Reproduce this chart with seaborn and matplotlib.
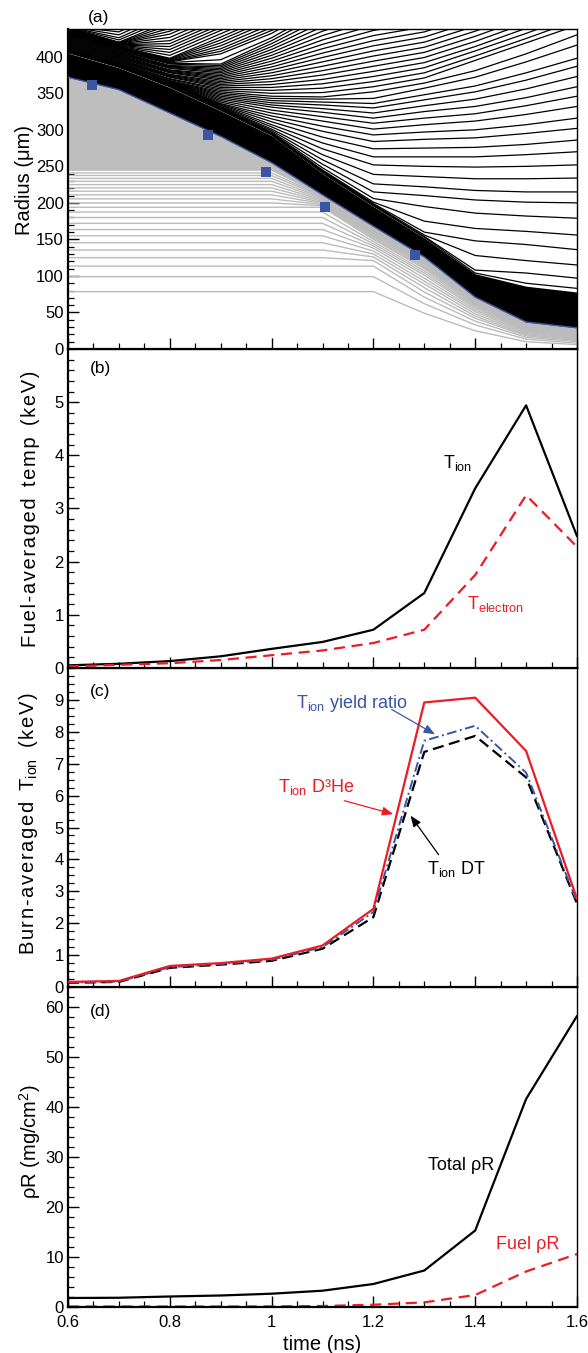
import matplotlib
matplotlib.use("Agg")
import matplotlib.pyplot as plt
from matplotlib.ticker import MultipleLocator, FixedLocator, FormatStrFormatter
import pandas as pd
import seaborn as sns

time_ns = [0.6, 0.7, 0.8, 0.9, 1.0, 1.1, 1.2, 1.3, 1.4, 1.5, 1.6]

# ---------------- panel (a): zone-boundary radii (um) ----------------
interface_r = [372, 355, 323, 291, 255, 211, 168, 126, 71, 37, 29]
shell_band_top_r = [405, 385, 358, 326, 292, 240, 195, 152, 103, 86, 78]
fuel_dense_floor_r = [245, 245, 245, 245, 245, 210, 164.5, 124.5, 70, 35.5, 27.5]

shell_lines_r = [
    [406.0, 386.0, 359.0, 327, 293, 241, 196, 153, 104, 90, 83],
    [406.2, 386.2, 359.4, 327.5, 293.5, 242, 197, 154, 108, 104, 97],
    [406.4, 386.4, 359.8, 328, 294, 243, 198, 156, 128, 121, 115],
    [406.6, 386.6, 360.2, 328.5, 294.5, 244, 199, 160, 148, 143, 136],
    [406.8, 386.8, 360.6, 329, 295, 245, 201, 175, 165, 161, 156],
    [407.0, 387.0, 361.0, 329.5, 296, 248, 206, 195, 186, 182, 179],
    [407.2, 387.2, 361.4, 330, 297, 253, 215, 210, 204, 201, 200],
    [407.4, 387.4, 361.8, 330.5, 299, 259, 226, 222, 217, 215, 215],
    [407.6, 387.6, 362.2, 331, 301, 266, 239, 236, 233, 233, 234],
    [407.8, 387.8, 362.6, 332, 304, 274, 252, 250, 249, 250, 252],
    [408.0, 388.0, 363.0, 333, 307, 282, 263, 263, 263, 266, 270],
    [408.2, 388.2, 363.4, 334, 311, 290, 274, 275, 276, 280, 286],
    [408.4, 388.4, 363.8, 335, 315, 298, 284, 287, 289, 295, 302],
    [408.6, 388.6, 364.2, 336, 319, 305, 293, 297, 300, 307, 316],
    [408.8, 388.8, 364.6, 338, 323, 312, 301, 307, 312, 321, 332],
    [409.0, 389.0, 365.0, 340, 327, 318, 309, 316, 322, 333, 346],
    [409.2, 389.2, 365.4, 342, 331, 324, 316, 325, 332, 344, 359],
    [409.4, 389.4, 365.8, 344, 334, 329, 323, 333, 342, 356, 373],
    [409.6, 389.6, 366.2, 346, 337, 334, 330, 341, 352, 368, 387],
    [409.8, 389.8, 366.6, 348, 340, 338, 336, 348, 360, 378, 398],
    [410.0, 390.0, 367.0, 350, 343, 342, 343, 357, 372, 393, 416],
    [410.2, 390.2, 367.4, 352, 346, 345, 352, 364, 381, 404, 430],
]

corona_lines_r = [
    [411, 391, 369, 354, 350, 351, 359, 371, 395, 419, 443],
    [412, 392, 370, 356, 354, 357, 366, 378, 401, 425, 450],
    [413, 393, 372, 358, 358, 363, 373, 385, 408, 432, 457],
    [414, 394, 373, 360, 362, 369, 380, 392, 414, 439],
    [415, 395, 374, 362, 366, 375, 387, 399, 421, 446],
    [416, 396, 375, 364, 370, 381, 394, 406, 428, 453],
    [417, 397, 376, 366, 374, 387, 401, 413, 435, 460],
    [418, 398, 378, 368, 378, 393, 408, 420, 442],
    [419, 399, 379, 370, 382, 399, 415, 427, 449],
    [420, 400, 380, 372, 386, 405, 422, 434, 457],
    [421, 401, 381, 374, 390, 411, 429, 441],
    [422, 402, 382, 376, 394, 417, 436, 448],
    [423, 403, 384, 378, 398, 423, 443],
    [424, 404, 385, 380, 402, 429, 450],
    [425, 405, 386, 382, 406, 435, 457],
    [426, 406, 387, 384, 410, 441],
    [427, 407, 388, 386, 414, 447],
    [428, 408, 390, 388, 418, 453],
    [429, 409, 391, 390, 422, 459],
    [430, 410, 392, 396, 426, 465],
    [431, 411, 393, 404, 432, 471],
    [431.5, 411.5, 393.5, 407.5, 436, 466],
    [432, 412, 394, 411, 440],
    [432.5, 412.5, 395, 415, 444.5],
    [433, 413, 396, 419, 449],
    [433.5, 413.5, 397, 423, 453],
    [434, 414, 398, 427, 457],
    [434.5, 414.5, 402, 431.5, 461],
    [435, 415, 406, 436, 465],
    [435.5, 415.5, 410, 440],
    [436, 416, 414, 444],
    [436.5, 416.5, 418, 448],
    [437, 417, 422, 452],
    [437.5, 417.5, 426.5, 456.5],
    [438, 418, 431, 461],
    [438.5, 418.5, 435, 465],
    [439, 419, 439],
    [439.5, 419.5, 443.5],
    [440, 420, 448],
    [440.5, 423, 452.5],
    [441, 426, 457],
    [441.5, 430, 461.5],
    [442, 434, 466],
]

fuel_lines_r = [
    [78.5, 78.5, 78.5, 78.5, 78.5, 78.5, 78.5, 49, 25, 10, 6],
    [99, 99, 99, 99, 99, 99, 99, 62, 33, 13.5, 8],
    [113.5, 113.5, 113.5, 113.5, 113.5, 113.5, 113.5, 71, 38, 16, 10],
    [125, 125, 125, 125, 125, 125, 121, 78, 42, 18, 11.5],
    [135.5, 135.5, 135.5, 135.5, 135.5, 135.5, 126, 84, 45, 19.5, 13],
    [145.5, 145.5, 145.5, 145.5, 145.5, 145.5, 130, 89, 48, 21, 14],
    [155, 155, 155, 155, 155, 155, 134, 93, 51, 22.5, 15],
    [163.5, 163.5, 163.5, 163.5, 163.5, 163.5, 138, 97, 53.5, 24, 16],
    [172, 172, 172, 172, 172, 172, 141, 101, 56, 25, 17],
    [180, 180, 180, 180, 180, 180, 144, 104, 58, 26, 18],
    [187.5, 187.5, 187.5, 187.5, 187.5, 187.5, 147, 107, 60, 27, 19],
    [194, 194, 194, 194, 194, 194, 150, 110, 61.5, 28, 20],
    [200, 200, 200, 200, 200, 196, 152, 112, 63, 29, 21],
    [205.5, 205.5, 205.5, 205.5, 205.5, 197.5, 154, 114, 64, 30, 22],
    [211, 211, 211, 211, 211, 199, 155.5, 116, 65, 30.5, 22.5],
    [216, 216, 216, 216, 216, 200.5, 157, 117.5, 66, 31, 23],
    [220.5, 220.5, 220.5, 220.5, 220.5, 202, 158.5, 119, 67, 32, 24],
    [225, 225, 225, 225, 225, 203.5, 160, 120, 67.5, 32.5, 24.5],
    [229.5, 229.5, 229.5, 229.5, 229.5, 205, 161, 121, 68, 33, 25],
    [233.5, 233.5, 233.5, 233.5, 233.5, 206.5, 162, 122, 68.5, 33.5, 25.5],
    [237.5, 237.5, 237.5, 237.5, 237.5, 208, 163, 123, 69, 34, 26],
    [241, 241, 241, 241, 241, 209, 164, 124, 69.5, 35, 27],
    [245, 245, 245, 245, 245, 210, 164.5, 124.5, 70, 35.5, 27.5],
    [248.5, 248.5, 248.5, 248.5, 248.5, 210.5, 165, 125, 70.5, 36, 28],
]

square_t = [0.647, 0.875, 0.989, 1.105, 1.282]
square_r = [361, 293, 242, 195, 129]

# ---------------- panel (b): fuel-averaged temperatures (keV) ----------------
t_ion_fuel = [0.05, 0.08, 0.13, 0.22, 0.36, 0.49, 0.72, 1.41, 3.38, 4.94, 2.48]
t_electron_fuel = [0.03, 0.06, 0.09, 0.15, 0.24, 0.33, 0.47, 0.72, 1.75, 3.25, 2.28]

# ---------------- panel (c): burn-averaged Tion (keV) ----------------
tion_d3he = [0.16, 0.19, 0.66, 0.75, 0.89, 1.30, 2.45, 8.92, 9.07, 7.40, 2.76]
tion_yield_ratio = [0.14, 0.17, 0.62, 0.72, 0.85, 1.25, 2.35, 7.72, 8.19, 6.72, 2.66]
tion_dt = [0.13, 0.16, 0.60, 0.70, 0.82, 1.20, 2.19, 7.37, 7.87, 6.57, 2.61]

# ---------------- panel (d): areal density (mg/cm^2) ----------------
rhor_total = [1.8, 1.85, 2.1, 2.3, 2.66, 3.26, 4.6, 7.3, 15.3, 41.6, 58.2]
rhor_fuel = [0.1, 0.1, 0.1, 0.1, 0.12, 0.2, 0.45, 0.93, 2.4, 7.1, 10.6]

RED = "#EC1C24"
BLUE = "#3A55A4"
GRAY = "#BEBEBE"

sns.set_theme(style="ticks")
plt.rcParams["font.family"] = ["Liberation Sans", "DejaVu Sans"]
plt.rcParams.update({
    "mathtext.fontset": "custom",
    "mathtext.rm": "Liberation Sans",
    "mathtext.it": "Liberation Sans:italic",
    "mathtext.bf": "Liberation Sans:bold",
    "axes.edgecolor": "black",
    "text.color": "black",
    "axes.labelcolor": "black",
    "xtick.color": "black",
    "ytick.color": "black",
})


def long_frame(rows, name):
    recs = []
    for i, row in enumerate(rows):
        for t, r in zip(time_ns, row):
            recs.append((f"{name}{i}", t, r))
    return pd.DataFrame(recs, columns=["line", "t", "r"])


fig = plt.figure(figsize=(5.88, 13.53), dpi=100)
FW, FH = 588.0, 1353.0
L, W = 68 / FW, 509 / FW


def frame(top, bot):
    return [L, 1 - bot / FH, W, (bot - top) / FH]


axa = fig.add_axes(frame(29, 349))
axb = fig.add_axes(frame(349, 668))
axc = fig.add_axes(frame(668, 987))
axd = fig.add_axes(frame(987, 1307))


def style_axis(ax, ymax, major_ticks, minor, show_x):
    ax.set_xlim(0.6, 1.6)
    ax.set_ylim(0, ymax)
    ax.xaxis.set_major_locator(MultipleLocator(0.2))
    ax.xaxis.set_minor_locator(MultipleLocator(0.05))
    ax.yaxis.set_major_locator(FixedLocator(major_ticks))
    ax.yaxis.set_minor_locator(MultipleLocator(minor))
    ax.yaxis.set_major_formatter(FormatStrFormatter("%g"))
    ax.xaxis.set_major_formatter(FormatStrFormatter("%g"))
    ax.tick_params(which="major", direction="in", length=8, width=1.0,
                   left=True, bottom=True, top=False, right=False,
                   labelsize=12, labelbottom=show_x)
    ax.tick_params(axis="y", which="major", pad=3)
    ax.tick_params(axis="x", which="major", pad=6)
    ax.tick_params(which="minor", direction="in", length=4.5, width=0.9,
                   left=True, bottom=True, top=False, right=False)
    for s in ["left", "bottom"]:
        ax.spines[s].set_linewidth(1.6)
    for s in ["top", "right"]:
        ax.spines[s].set_linewidth(1.0)
    ax.grid(False)
    ax.set_xlabel("")


# ---- panel (a) ----
sns.lineplot(data=long_frame(fuel_lines_r, "g"), x="t", y="r", units="line",
             estimator=None, sort=False, color="#BBBBBB", lw=1.0,
             legend=False, ax=axa, zorder=1)
axa.fill_between(time_ns, fuel_dense_floor_r, interface_r, color=GRAY, lw=0, zorder=1.5)
axa.fill_between(time_ns, interface_r, shell_band_top_r, color="black", lw=0, zorder=2)
sns.lineplot(data=long_frame(shell_lines_r + corona_lines_r, "k"), x="t", y="r",
             units="line", estimator=None, sort=False, color="black", lw=0.9,
             legend=False, ax=axa, zorder=2.5)
sns.lineplot(x=time_ns, y=interface_r, color=BLUE, lw=1.0, ax=axa, zorder=3)
sns.scatterplot(x=square_t, y=square_r, marker="s", s=42, color=BLUE,
                edgecolor=BLUE, linewidth=0, ax=axa, zorder=4)
style_axis(axa, 438, [0, 50, 100, 150, 200, 250, 300, 350, 400], 10, False)
axa.set_ylabel("Radius (μm)", fontsize=14.5)
axa.yaxis.set_label_coords(-0.066, 0.528)
axa.text(0.061, 1.037, "(a)", transform=axa.transAxes, ha="center", va="center", fontsize=12.5)

# ---- panel (b) ----
sns.lineplot(x=time_ns, y=t_ion_fuel, color="black", lw=1.6, ax=axb)
sns.lineplot(x=time_ns, y=t_electron_fuel, color=RED, lw=1.6,
             linestyle=(0, (5, 3)), ax=axb)
style_axis(axb, 6, [0, 1, 2, 3, 4, 5], 0.2, False)
axb.set_ylabel("F\u200au\u200ae\u200al\u200a-\u200aa\u200av\u200ae\u200ar\u200aa\u200ag\u200ae\u200ad"
               "  t\u200ae\u200am\u200ap  (\u200ak\u200ae\u200aV\u200a)", fontsize=14.5)
axb.yaxis.set_label_coords(-0.055, 0.5)
axb.text(0.063, 0.94, "(b)", transform=axb.transAxes, ha="center", va="center", fontsize=12.5)
axb.text(1.365, 3.85, "T$_{\\rm ion}$", color="black", fontsize=13, ha="center", va="center")
axb.text(1.44, 1.2, "T$_{\\rm electron}$", color=RED, fontsize=13, ha="center", va="center")

# ---- panel (c) ----
sns.lineplot(x=time_ns, y=tion_d3he, color=RED, lw=1.6, ax=axc, zorder=3)
sns.lineplot(x=time_ns, y=tion_dt, color="black", lw=1.6,
             linestyle=(0, (5, 2.5)), ax=axc, zorder=2)
sns.lineplot(x=time_ns, y=tion_yield_ratio, color=BLUE, lw=1.4,
             linestyle=(0, (5, 1.8, 1, 1.8)), ax=axc, zorder=2.5)
style_axis(axc, 10, [0, 1, 2, 3, 4, 5, 6, 7, 8, 9], 0.25, False)
axc.set_ylabel("B\u200au\u200ar\u200an\u200a-\u200aa\u200av\u200ae\u200ar\u200aa\u200ag\u200ae\u200ad  "
               "T$_{\\rm ion}$  (\u200ak\u200ae\u200aV\u200a)", fontsize=14.5)
axc.yaxis.set_label_coords(-0.055, 0.514)
axc.text(0.063, 0.926, "(c)", transform=axc.transAxes, ha="center", va="center", fontsize=12.5)
axc.text(1.157, 8.9, "T$_{\\rm ion}$ yield ratio", color=BLUE, fontsize=13, ha="center", va="center")
axc.text(1.088, 6.26, "T$_{\\rm ion}$ D³He", color=RED, fontsize=13, ha="center", va="center")
axc.text(1.363, 3.7, "T$_{\\rm ion}$ DT", color="black", fontsize=13, ha="center", va="center")
arrow_kw = dict(arrowstyle="-|>,head_length=0.55,head_width=0.22", lw=0.9, shrinkA=0, shrinkB=0)
axc.annotate("", xy=(1.321, 7.92), xytext=(1.236, 8.7), arrowprops=dict(color=BLUE, **arrow_kw))
axc.annotate("", xy=(1.239, 5.42), xytext=(1.143, 5.84), arrowprops=dict(color=RED, **arrow_kw))
axc.annotate("", xy=(1.273, 5.37), xytext=(1.328, 4.15), arrowprops=dict(color="black", **arrow_kw))

# ---- panel (d) ----
sns.lineplot(x=time_ns, y=rhor_total, color="black", lw=1.6, ax=axd)
sns.lineplot(x=time_ns, y=rhor_fuel, color=RED, lw=1.6, linestyle=(0, (5, 3)), ax=axd)
style_axis(axd, 64, [0, 10, 20, 30, 40, 50, 60], 2, True)
axd.set_ylabel("ρR (mg/cm$^2$)", fontsize=14.5)
axd.yaxis.set_label_coords(-0.05, 0.516)
axd.set_xlabel("time (ns)", fontsize=14.5, labelpad=3)
axd.text(0.063, 0.923, "(d)", transform=axd.transAxes, ha="center", va="center", fontsize=12.5)
axd.text(1.373, 28.4, "Total ρR", color="black", fontsize=13, ha="center", va="center")
axd.text(1.504, 12.5, "Fuel ρR", color=RED, fontsize=13, ha="center", va="center")

fig.savefig("out.png", dpi=100)
